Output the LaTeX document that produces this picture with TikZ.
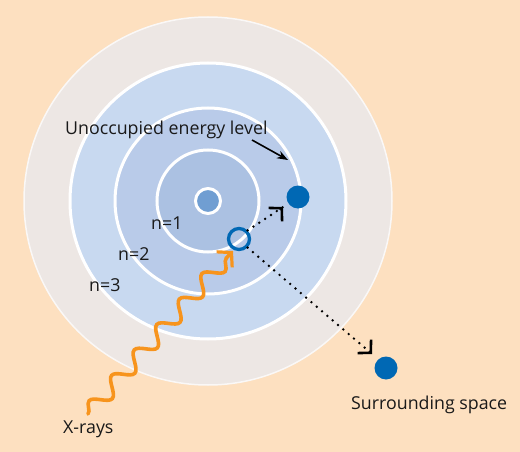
\documentclass[tikz,border=0pt]{standalone}
\usepackage{fontspec}
\setmainfont{Open Sans}
\usetikzlibrary{arrows.meta,decorations.pathmorphing,calc}
\definecolor{peach}{RGB}{253,224,192}
\definecolor{greyring}{RGB}{237,231,228}
\definecolor{zonethree}{RGB}{200,217,240}
\definecolor{zonetwo}{RGB}{185,203,233}
\definecolor{zoneone}{RGB}{171,193,226}
\definecolor{nucleus}{RGB}{112,158,210}
\definecolor{electron}{RGB}{0,104,180}
\definecolor{xray}{RGB}{247,148,29}
\tikzset{
  ring/.style={draw=white, line width=3pt},
  lbl/.style={font=\fontsize{17.8}{19}\selectfont, inner sep=0pt, text=black!90},
  elec/.style={circle, fill=electron, minimum size=23pt, inner sep=0pt},
  dotline/.style={line width=2.7pt, dash pattern=on 0pt off 7pt, line cap=round},
  barb/.style={-{Straight Barb[length=9pt,width=19pt,line width=2.6pt]}},
}
\begin{document}
\begin{tikzpicture}[x=1pt,y=-1pt]
\fill[peach] (0,0) rectangle (520,452);
\useasboundingbox (0,0) rectangle (520,452);
\coordinate (c) at (208,201);
% shells
\fill[greyring, draw=white!70!greyring, line width=1.5pt] (c) circle[radius=184pt];
\fill[zonethree] (c) circle[radius=138pt];
\draw[ring] (c) circle[radius=138pt];
\fill[zonetwo] (c) circle[radius=93pt];
\draw[ring] (c) circle[radius=93pt];
\fill[zoneone] (c) circle[radius=51pt];
\draw[ring] (c) circle[radius=51pt];
\node[circle, fill=nucleus, draw=white, line width=3pt, minimum size=25pt, inner sep=0pt] (nuc) at (c) {};
% electrons
\node[elec] (e1) at (298,197) {};
\node[elec] (e2) at (386,368) {};
\node[circle, draw=electron, line width=3.3pt, minimum size=21pt, inner sep=0pt] (hole) at (239,239) {};
% dotted paths
\coordinate (t1) at (283,207);
\coordinate (t2) at (372,354);
\draw[dotline] (hole.north east) -- (t1);
\draw[barb] ($(t1)+(-1,1)$) -- (t1);
\draw[dotline] (hole.south east) -- (t2);
\draw[barb] ($(t2)+(-1,-1)$) -- (t2);
% x-rays
\coordinate (xs) at (88,414);
\coordinate (xe) at (233,251);
\draw[xray, line width=3.6pt, line cap=round, decorate,
      decoration={snake, amplitude=8pt, segment length=34pt, post length=4pt}] (xs) -- ($(xe)+(-3,3)$);
\draw[xray, line width=3.2pt, -{Straight Barb[length=10pt,width=22pt,line width=3.2pt]}] ($(xe)+(-4,4)$) -- (xe);
% labels
\node[lbl, anchor=base west] (lu) at (65,135) {Unoccupied energy level};
\coordinate (ua) at (288,160);
\draw[line width=1.6pt, -{Stealth[length=11pt,width=8pt]}] (252,140) -- (ua);
\node[lbl, anchor=base west] (n1) at (151,229) {n=1};
\node[lbl, anchor=base west] (n2) at (118,260) {n=2};
\node[lbl, anchor=base west] (n3) at (89,291) {n=3};
\node[lbl, anchor=base west] (xr) at (63,433) {X-rays};
\node[lbl, anchor=base west] (ss) at (351,409) {Surrounding space};
\end{tikzpicture}
\end{document}
